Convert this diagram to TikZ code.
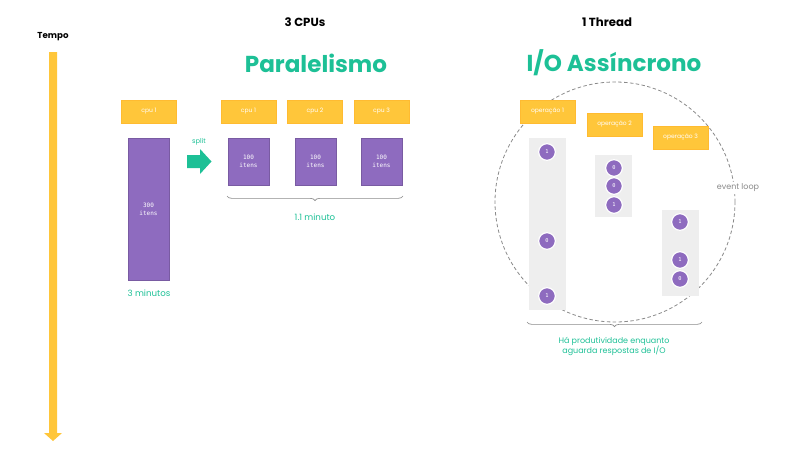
\documentclass[tikz,border=0pt]{standalone}
\usepackage{fontspec}
\setmainfont{Poppins}
\newfontfamily\monof{DejaVu Sans Mono}
\usetikzlibrary{decorations.pathreplacing}
\definecolor{ylw}{HTML}{FFC63A}
\definecolor{prp}{HTML}{8E6BBF}
\definecolor{tel}{HTML}{1DC096}
\definecolor{gcol}{HTML}{EEEEEE}
\definecolor{dgr}{HTML}{8A8A8A}
\tikzset{
  ybox/.style={fill=ylw, draw=ylw!85!orange, line width=0.4pt, minimum width=41.25pt, minimum height=17.25pt, inner sep=0pt, text=white, font=\fontsize{4.5}{5}\selectfont},
  pbox/.style={fill=prp, draw=prp!85!black, line width=0.4pt, inner sep=0pt, text=white, align=center, font=\monof\fontsize{4.5}{6}\selectfont},
  gbox/.style={fill=gcol, draw=none, inner sep=0pt},
  dotn/.style={circle, fill=prp, draw=white, line width=0.9pt, minimum size=12.5pt, inner sep=0pt, text=white, font=\monof\fontsize{4}{4}\selectfont},
  teal/.style={text=tel, font=\fontsize{6}{7.5}\selectfont, align=center, inner sep=0pt},
  title/.style={text=tel, font=\bfseries\fontsize{17.3}{20}\selectfont, inner sep=0pt},
  head/.style={text=black, font=\bfseries\fontsize{8.8}{10}\selectfont, inner sep=0pt},
  bracel/.style={draw=dgr, line width=0.5pt, decorate, decoration={brace, mirror, amplitude=3.5pt}}
}
\begin{document}
\begin{tikzpicture}[x=0.75pt,y=-0.75pt]
\useasboundingbox (0,0) rectangle (800,450);
% time axis
\node[inner sep=0pt, font=\bfseries\fontsize{6.5}{8}\selectfont] (tempo) at (53,37) {Tempo};
\fill[ylw] (49,52) -- (57,52) -- (57,433) -- (62,433) -- (53,441) -- (44,433) -- (49,433) -- cycle;
% headings
\node[head] (h1) at (305,22) {3 CPUs};
\node[head] (h2) at (607,22) {1 Thread};
\node[title] (t1) at (316,63) {Paralelismo};
\node[title] (t2) at (614,63) {I/O Assíncrono};
% left single cpu
\node[ybox] (c0) at (149,111.5) {cpu 1};
\node[pbox, minimum width=30.75pt, minimum height=106.5pt] (p0) at (148.5,209) {300\\itens};
\node[teal, font=\fontsize{6.5}{8}\selectfont] (m3) at (149,293) {3 minutos};
% split arrow
\node[teal, font=\fontsize{5}{6}\selectfont] (split) at (199,142) {split};
\fill[tel] (187,155) -- (200,155) -- (200,149) -- (211.5,161.5) -- (200,174) -- (200,168) -- (187,168) -- cycle;
% three cpus
\node[ybox] (c1) at (248.5,111.5) {cpu 1};
\node[ybox] (c2) at (315,111.5) {cpu 2};
\node[ybox] (c3) at (381.5,111.5) {cpu 3};
\node[pbox, minimum width=30.75pt, minimum height=35.25pt] (p1) at (248.5,161.5) {100\\itens};
\node[pbox, minimum width=30.75pt, minimum height=35.25pt] (p2) at (315.5,161.5) {100\\itens};
\node[pbox, minimum width=30.75pt, minimum height=35.25pt] (p3) at (381.5,161.5) {100\\itens};
\coordinate (b1a) at (227,196);
\coordinate (b1b) at (403,196);
\draw[bracel] (b1a) -- (b1b);
\node[teal, font=\fontsize{6.5}{8}\selectfont] (m11) at (315,217) {1.1 minuto};
% event loop
\draw[dgr, line width=0.6pt, dash pattern=on 2.6pt off 1.8pt] (615,202) circle (90pt);
\node[fill=white, inner sep=1.5pt, text=dgr, font=\fontsize{6}{6.5}\selectfont] (ev) at (738,188) {event loop};
% columns
\node[gbox, minimum width=27.75pt, minimum height=129pt] (g1) at (547.5,224) {};
\node[gbox, minimum width=27.75pt, minimum height=46.5pt] (g2) at (613.5,186) {};
\node[gbox, minimum width=27.75pt, minimum height=64.5pt] (g3) at (680.5,253) {};
\node[ybox] (o1) at (547.5,111.5) {operação 1};
\node[ybox] (o2) at (614.5,124.5) {operação 2};
\node[ybox] (o3) at (680.5,137.5) {operação 3};
\node[dotn] (d11) at (547,152) {1};
\node[dotn] (d12) at (547,241) {0};
\node[dotn] (d13) at (547,296) {1};
\node[dotn] (d21) at (614,168) {0};
\node[dotn] (d22) at (614,186) {0};
\node[dotn] (d23) at (614,205) {1};
\node[dotn] (d31) at (680,222) {1};
\node[dotn] (d32) at (680,260) {1};
\node[dotn] (d33) at (680,279) {0};
\coordinate (b2a) at (527,322);
\coordinate (b2b) at (702,322);
\draw[bracel] (b2a) -- (b2b);
\node[teal] (hp) at (614,346.5) {Há produtividade enquanto\\aguarda respostas de I/O};
\end{tikzpicture}
\end{document}
